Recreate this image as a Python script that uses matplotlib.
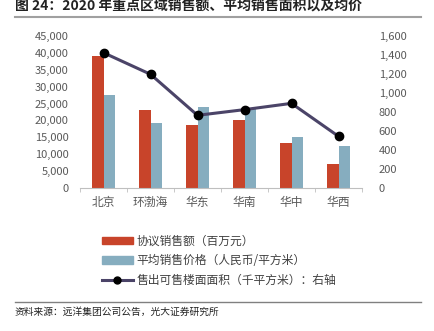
import matplotlib
matplotlib.use("Agg")
import matplotlib.pyplot as plt
import numpy as np
from matplotlib.lines import Line2D
from matplotlib.patches import Patch

plt.rcParams['font.family'] = ['Noto Sans CJK SC', 'DejaVu Sans']

categories = ['北京', '环渤海', '华东', '华南', '华中', '华西']
sales = [39100, 23100, 18600, 20000, 13400, 7000]
price = [27400, 19200, 24000, 23600, 15000, 12500]
area = [1424, 1197, 765, 825, 891, 544]
left_ticks = [0, 5000, 10000, 15000, 20000, 25000, 30000, 35000, 40000, 45000]
right_ticks = [0, 200, 400, 600, 800, 1000, 1200, 1400, 1600]

red = '#C8442A'
blue = '#86ADBF'
line_c = '#4B4468'

fig = plt.figure(figsize=(4.34, 3.31), dpi=100)
W, H = 434, 331
ax = fig.add_axes([80 / W, 1 - 188 / H, (362 - 80) / W, (188 - 36) / H])
ax2 = ax.twinx()

x = np.arange(len(categories))
bw = 0.25
ax.bar(x - bw / 2, sales, bw, color=red, zorder=2)
ax.bar(x + bw / 2, price, bw, color=blue, zorder=2)
ax2.plot(x, area, color=line_c, lw=2.2, marker='o', ms=6,
         mfc='black', mec='black', zorder=3)

ax.set_xlim(-0.5, len(categories) - 0.5)
ax.set_ylim(0, 45000)
ax2.set_ylim(0, 1600)
ax.set_yticks(left_ticks)
ax.set_yticklabels([f'{v:,}' for v in left_ticks])
ax2.set_yticks(right_ticks)
ax2.set_yticklabels([f'{v:,}' for v in right_ticks])
ax.set_xticks(x)
ax.set_xticklabels(categories)
ax.set_xticks(np.arange(-0.5, len(categories)), minor=True)

for a in (ax, ax2):
    for s in ['top', 'left', 'right']:
        a.spines[s].set_visible(False)
    a.spines['bottom'].set_visible(False)
ax.spines['bottom'].set_visible(True)
ax.spines['bottom'].set_color('#BFBFBF')
ax.tick_params(axis='y', length=0, labelsize=8, labelcolor='#595959', pad=8)
ax2.tick_params(axis='y', length=0, labelsize=8, labelcolor='#595959', pad=12)
ax.tick_params(axis='x', which='major', length=0, labelsize=8.5, labelcolor='#595959', pad=6)
ax.tick_params(axis='x', which='minor', length=3, color='#BFBFBF')

handles = [Patch(color=red), Patch(color=blue),
           Line2D([0], [0], color=line_c, lw=2.2, marker='o', ms=5, mfc='black', mec='black')]
labels = ['协议销售额（百万元）', '平均销售价格（人民币/平方米）', '售出可售楼面面积（千平方米）：右轴']
fig.legend(handles, labels, loc='upper left', bbox_to_anchor=(96 / W, 1 - 229 / H),
           frameon=False, fontsize=8.5, labelcolor='#404040', handlelength=2.6,
           handleheight=0.6, labelspacing=0.55, handletextpad=0.3, borderpad=0)

fig.text(15 / W, 1 - 6 / H, '图 24：2020 年重点区域销售额、平均销售面积以及均价',
         fontsize=10, fontweight='bold', va='center', ha='left', color='#222222')
fig.add_artist(Line2D([15 / W, 421 / W], [1 - 17 / H, 1 - 17 / H], color='#A0A0A0', lw=1.5))
fig.add_artist(Line2D([15 / W, 421 / W], [1 - 302 / H, 1 - 302 / H], color='#808080', lw=1.0))
fig.text(15 / W, 1 - 312 / H, '资料来源：远洋集团公司公告，光大证券研究所',
         fontsize=7, va='center', ha='left', color='#222222')

fig.savefig('out.png', dpi=100)
